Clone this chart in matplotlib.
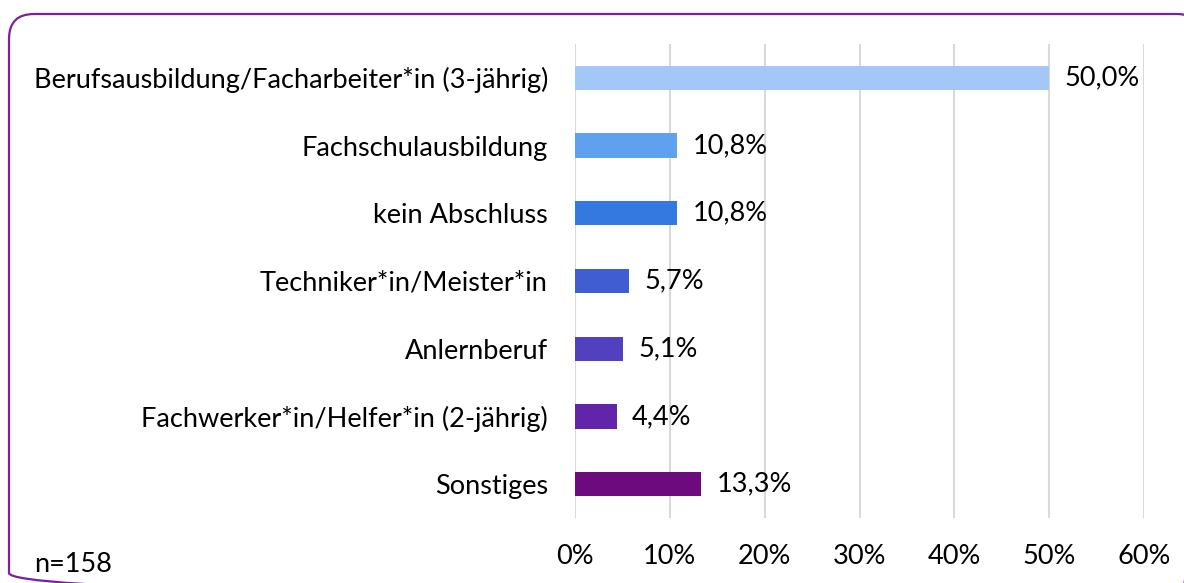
import matplotlib
matplotlib.use("Agg")
import matplotlib.pyplot as plt
from matplotlib.patches import FancyBboxPatch

categories = ["Berufsausbildung/Facharbeiter*in (3-jährig)", "Fachschulausbildung",
              "kein Abschluss", "Techniker*in/Meister*in", "Anlernberuf",
              "Fachwerker*in/Helfer*in (2-jährig)", "Sonstiges"]
values = [50.0, 10.8, 10.8, 5.7, 5.1, 4.4, 13.3]
colors = ["#A3C7F7", "#5FA0EF", "#3479E0", "#405DD1", "#5241BE", "#6224A9", "#6D0A7E"]
xticks = [0, 10, 20, 30, 40, 50, 60]
note = "n=158"

plt.rcParams['font.family'] = ['Lato', 'DejaVu Sans']
FS = 19.5
W, H = 1184, 583
fig = plt.figure(figsize=(W/100, H/100), dpi=100)

# rounded border drawn in pixel coordinates
bg = fig.add_axes([0, 0, 1, 1])
bg.set_xlim(0, W)
bg.set_ylim(H, 0)
bg.axis("off")
border = FancyBboxPatch((9, 14), 1202 - 9, 598 - 14,
                        boxstyle="round,pad=0,rounding_size=25",
                        fill=False, edgecolor="#7B1FA2", linewidth=1.6, clip_on=False)
bg.add_patch(border)

left, right, top, bottom = 575, 1144, 44, 518
ax = fig.add_axes([left/W, 1-bottom/H, (right-left)/W, (bottom-top)/H])
y = list(range(len(categories)))
ax.barh(y, values, height=0.36, color=colors, zorder=3)
ax.set_ylim(len(categories)-0.5, -0.5)
ax.set_xlim(0, 60)
ax.set_xticks(xticks)
ax.set_xticklabels([f"{t}%" for t in xticks], fontsize=FS, color="#000000")
ax.set_yticks(y)
ax.set_yticklabels(categories, fontsize=FS, color="#000000")
ax.tick_params(axis='both', length=0)
ax.tick_params(axis='y', pad=19.5)
ax.tick_params(axis='x', pad=19)
ax.grid(axis='x', color="#D9D9D9", linewidth=1.5, zorder=0)
for s in ax.spines.values():
    s.set_visible(False)
for yi, v in zip(y, values):
    ax.text(v + 1.6, yi, f"{v:.1f}%".replace(".", ","), va="center", ha="left",
            fontsize=FS, color="#000000")

fig.text(34/W, 1-564/H, note, fontsize=FS, va="center", ha="left")
fig.savefig("out.png", dpi=100)
